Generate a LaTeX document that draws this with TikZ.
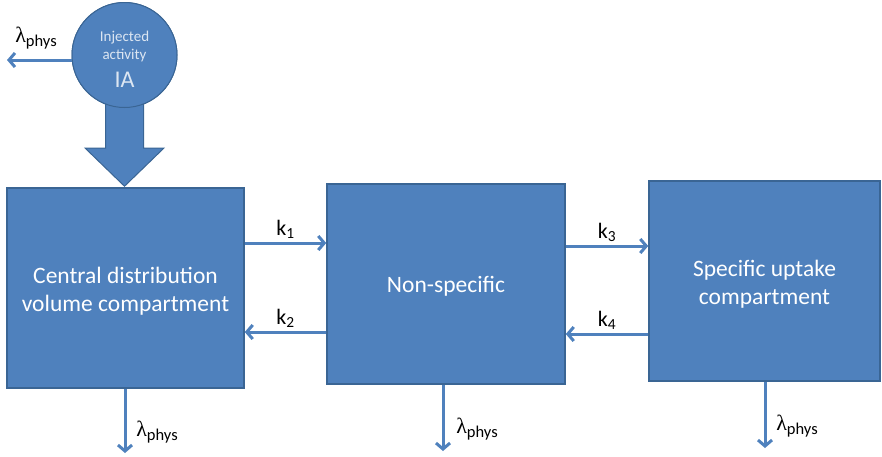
\documentclass[tikz,border=0pt]{standalone}
\usepackage{fontspec}
\setmainfont{Carlito}
\newfontfamily\greekf{Liberation Serif}
\usetikzlibrary{arrows.meta,calc}
\definecolor{boxblue}{HTML}{4F81BD}
\definecolor{edgeblue}{HTML}{3A6594}
\definecolor{paleblue}{HTML}{DCE6F2}
\newcommand{\lphys}{{\fontsize{22}{23}\selectfont\greekf λ}\raisebox{-3.5pt}{\fontsize{16.5}{17}\selectfont phys}}
\begin{document}
\begin{tikzpicture}[x=1pt,y=-1pt,
  compartment/.style={draw=edgeblue, line width=1.5pt, fill=boxblue, minimum height=200pt, inner sep=0pt},
  boxtext/.style={text=white, font=\fontsize{23.5}{28}\selectfont, align=center, inner sep=0pt},
  flow/.style={draw=boxblue, line width=3pt, -{Straight Barb[length=6pt,width=14pt]}},
  rate/.style={font=\fontsize{22}{23}\selectfont, inner sep=1pt},
  bigarrow/.style={fill=boxblue, draw=edgeblue, line width=1pt, line join=miter}]
\useasboundingbox (0,0) rectangle (882,456);

% compartments
\node[compartment, minimum width=237pt] (central) at (125.5,288) {};
\node[compartment, minimum width=238pt] (nonspec) at (446,284) {};
\node[compartment, minimum width=231pt] (specific) at (764.5,281) {};
\node[boxtext] (centraltext) at ($(central.center)+(0,3)$) {Central distribution\\volume compartment};
\node[boxtext] (nonspectext) at ($(nonspec.center)+(0,2)$) {Non-specific};
\node[boxtext] (specifictext) at ($(specific.center)+(0,3)$) {Specific uptake\\compartment};

% injected activity source and its input arrow
\node[circle, fill=boxblue, draw=edgeblue, line width=1pt, minimum size=105pt, inner sep=0pt] (ia) at (124.5,55) {};
\path[bigarrow] ($(ia.south)+(-19,-4)$) -- ($(ia.south)+(-19,40)$) -- ($(ia.south)+(-39.5,40)$)
  -- ($(ia.south |- central.north)+(0,-1)$) -- ($(ia.south)+(39.5,40)$) -- ($(ia.south)+(19,40)$)
  -- ($(ia.south)+(19,-4)$) -- cycle;
\draw[edgeblue, line width=1pt, fill=boxblue] (ia) circle (52.5pt);
\node[text=paleblue, align=center, font=\fontsize{15}{18}\selectfont, inner sep=0pt] (iatext) at (124.5,46) {Injected\\activity};
\node[text=paleblue, font=\fontsize{24}{25}\selectfont, inner sep=0pt] (ialabel) at (124.5,80) {IA};

% physical decay from the injected activity
\coordinate (iaout) at (7,60);
\draw[flow] (ia.west |- iaout) -- (iaout);
\node[inner sep=0pt] (liao) at (36,38) {\lphys};

% exchange between compartments
\draw[flow] (central.east |- 0,243) -- node[rate, above=2pt] (k1) {k\textsubscript{1}} (nonspec.west |- 0,243);
\draw[flow] (nonspec.west |- 0,332) -- node[rate, above=2pt] (k2) {k\textsubscript{2}} (central.east |- 0,332);
\draw[flow] (nonspec.east |- 0,246) -- node[rate, above=2pt] (k3) {k\textsubscript{3}} (specific.west |- 0,246);
\draw[flow] (specific.west |- 0,334) -- node[rate, above=2pt] (k4) {k\textsubscript{4}} (nonspec.east |- 0,334);

% physical decay out of each compartment
\coordinate (out1) at (125,453);
\coordinate (out2) at (443,451);
\coordinate (out3) at (765,448);
\draw[flow] (central.south -| out1) -- (out1);
\draw[flow] (nonspec.south -| out2) -- (out2);
\draw[flow] (specific.south -| out3) -- (out3);
\node[inner sep=0pt] (l1) at (157,432) {\lphys};
\node[inner sep=0pt] (l2) at (477,429) {\lphys};
\node[inner sep=0pt] (l3) at (797,426) {\lphys};
\end{tikzpicture}
\end{document}
